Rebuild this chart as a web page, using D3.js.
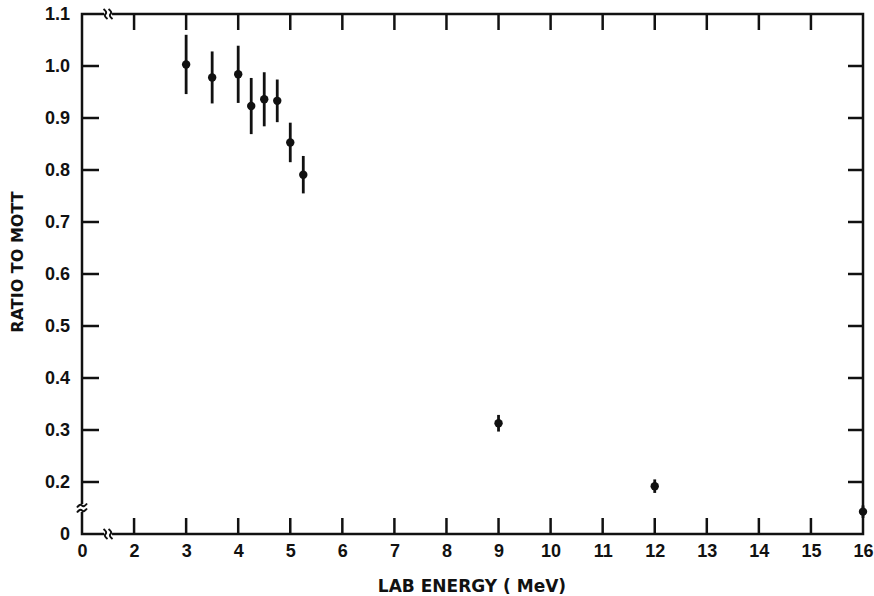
<!DOCTYPE html>
<html>
<head>
<meta charset="utf-8">
<script src="https://cdn.jsdelivr.net/npm/d3@7"></script>
<style>
  body { margin: 0; background: #fff; }
  text { font-family: "Liberation Sans", Arial, sans-serif; font-weight: bold; fill: #111; }
  .title { font-family: "DejaVu Sans", sans-serif; }
</style>
</head>
<body>
<script>
'use strict';

// lab energy (MeV) and ratio to Mott, with error half-widths
var energy = [3, 3.5, 4, 4.25, 4.5, 4.75, 5, 5.25, 9, 12, 16];
var ratio  = [1.003, 0.978, 0.984, 0.923, 0.936, 0.933, 0.853, 0.791, 0.313, 0.192, 0.143];
var err    = [0.057, 0.050, 0.055, 0.054, 0.052, 0.041, 0.038, 0.036, 0.016, 0.013, 0.012];

// axis is broken: "0" is drawn one step in from the true origin
var xTicks = [1, 2, 3, 4, 5, 6, 7, 8, 9, 10, 11, 12, 13, 14, 15, 16];
var xLabels = ["0", "2", "3", "4", "5", "6", "7", "8", "9", "10", "11", "12", "13", "14", "15", "16"];
var yTicks = [0.1, 0.2, 0.3, 0.4, 0.5, 0.6, 0.7, 0.8, 0.9, 1.0, 1.1];
var yLabels = ["0", "0.2", "0.3", "0.4", "0.5", "0.6", "0.7", "0.8", "0.9", "1.0", "1.1"];

(function() {

    var width = 874, height = 596;
    var mLeft = 82, mRight = 863, mTop = 14, mBottom = 534;

    var svg = d3.select("body").append("svg")
        .attr("width", width)
        .attr("height", height);

    var x = d3.scaleLinear().domain([1, 16]).range([mLeft, mRight]);
    var y = d3.scaleLinear().domain([0.1, 1.1]).range([mBottom, mTop]);

    var ink = "#111";

    // frame
    svg.append("rect")
        .attr("x", mLeft).attr("y", mTop)
        .attr("width", mRight - mLeft).attr("height", mBottom - mTop)
        .attr("fill", "none").attr("stroke", ink).attr("stroke-width", 2.5);

    // tick labels on bottom and left only
    var bottomAxis = svg.append("g")
        .attr("transform", "translate(0," + mBottom + ")")
        .call(d3.axisBottom(x).tickValues(xTicks).tickSize(0).tickPadding(10)
            .tickFormat(function(d, i) { return xLabels[i]; }));
    bottomAxis.select(".domain").remove();
    bottomAxis.selectAll("text").style("font-size", "18px").attr("fill", ink);

    var leftAxis = svg.append("g")
        .attr("transform", "translate(" + mLeft + ",0)")
        .call(d3.axisLeft(y).tickValues(yTicks).tickSize(0).tickPadding(12)
            .tickFormat(function(d, i) { return yLabels[i]; }));
    leftAxis.select(".domain").remove();
    leftAxis.selectAll("text").style("font-size", "18px").attr("fill", ink);

    // inward ticks on all four sides
    var innerX = xTicks.slice(1, -1);
    var innerY = yTicks.slice(1, -1);

    var ticks = svg.append("g").attr("stroke", ink).attr("stroke-width", 2.5);
    ticks.selectAll(".tb").data(innerX).enter().append("line")
        .attr("x1", d => x(d)).attr("x2", d => x(d))
        .attr("y1", mBottom).attr("y2", mBottom - 16);
    ticks.selectAll(".tt").data(innerX).enter().append("line")
        .attr("x1", d => x(d)).attr("x2", d => x(d))
        .attr("y1", mTop).attr("y2", mTop + 16);
    ticks.selectAll(".tl").data(innerY).enter().append("line")
        .attr("y1", d => y(d)).attr("y2", d => y(d))
        .attr("x1", mLeft).attr("x2", mLeft + 17);
    ticks.selectAll(".tr").data(innerY).enter().append("line")
        .attr("y1", d => y(d)).attr("y2", d => y(d))
        .attr("x1", mRight).attr("x2", mRight - 15);

    // break marks
    function breakMark(cx, cy, vertical) {
        var g = svg.append("g")
            .attr("transform", "translate(" + cx + "," + cy + ")" + (vertical ? " rotate(90)" : ""));
        g.append("rect").attr("x", -4).attr("y", -5).attr("width", 8).attr("height", 10).attr("fill", "#fff");
        [-2.5, 2.5].forEach(function(o) {
            g.append("path")
                .attr("d", "M" + (o - 2) + ",-5 Q" + (o + 2) + ",-2 " + o + ",0 Q" + (o - 2) + ",2 " + (o + 2) + ",5")
                .attr("fill", "none").attr("stroke", ink).attr("stroke-width", 2);
        });
    }
    breakMark(x(1.5), mTop, false);
    breakMark(x(1.5), mBottom, false);
    breakMark(mLeft, y(0.15), true);

    // error bars and points
    var pts = svg.append("g");
    pts.selectAll("line").data(energy).enter().append("line")
        .attr("x1", d => x(d)).attr("x2", d => x(d))
        .attr("y1", (d, i) => y(ratio[i] + err[i]))
        .attr("y2", (d, i) => y(ratio[i] - err[i]))
        .attr("stroke", ink).attr("stroke-width", 2.8);
    pts.selectAll("circle").data(energy).enter().append("circle")
        .attr("cx", d => x(d))
        .attr("cy", (d, i) => y(ratio[i]))
        .attr("r", 4.2)
        .attr("fill", ink);

    // axis titles
    svg.append("text")
        .attr("class", "title")
        .attr("x", 472).attr("y", 592)
        .attr("text-anchor", "middle")
        .style("font-size", "17px")
        .text("LAB ENERGY ( MeV)");

    svg.append("text")
        .attr("class", "title")
        .attr("transform", "translate(23,262) rotate(-90)")
        .attr("text-anchor", "middle")
        .style("font-size", "16px")
        .text("RATIO TO MOTT");
})();
</script>
</body>
</html>
